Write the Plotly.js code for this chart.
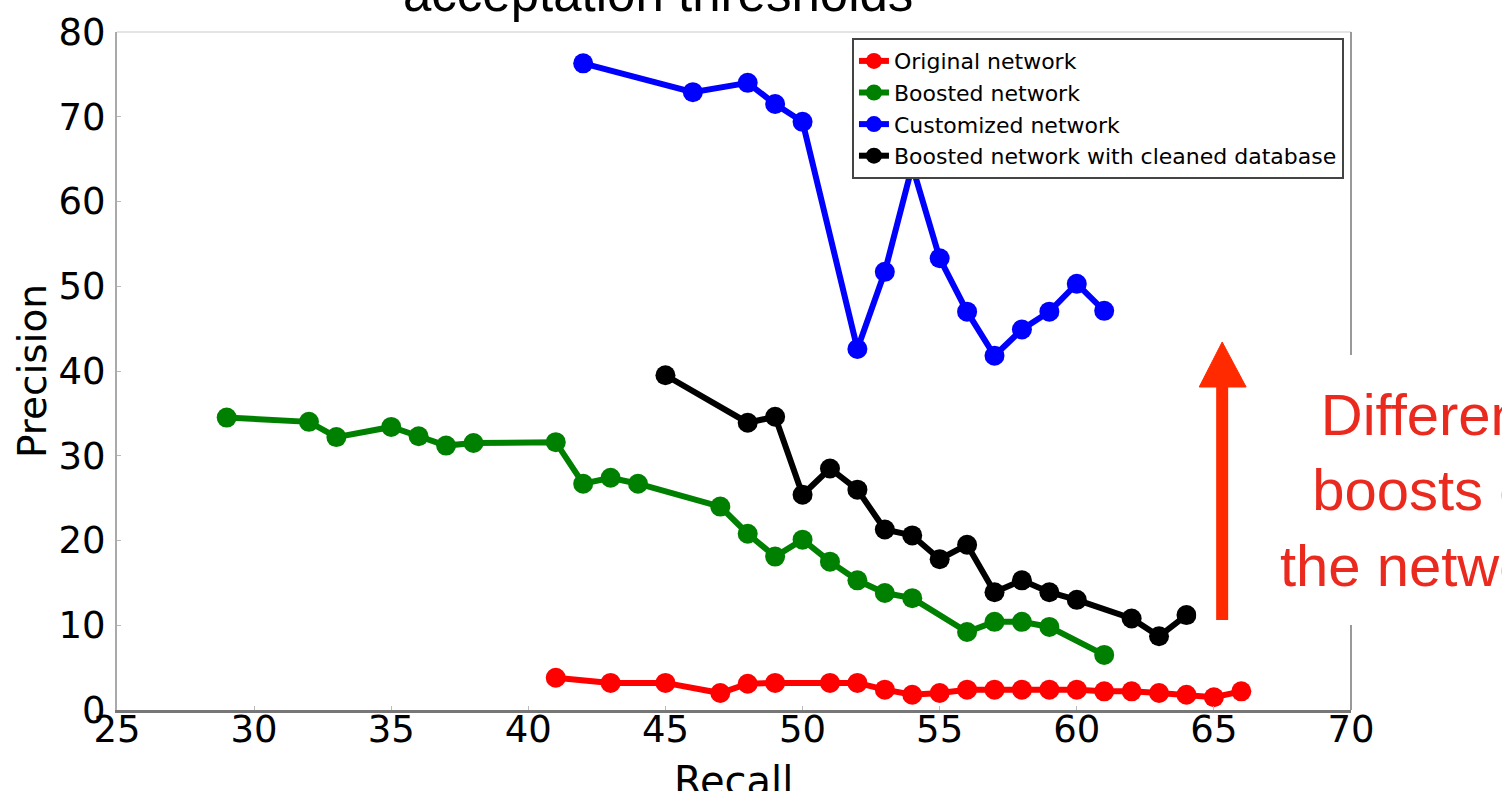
<!DOCTYPE html>
<html>
<head>
<meta charset="utf-8">
<script src="https://cdn.plot.ly/plotly-3.0.1.min.js"></script>
<style>html,body{margin:0;padding:0;background:#fff;}#chart{width:1502px;height:791px;}</style>
</head>
<body>
<div id="chart"></div>
<script>
// Data (Recall vs Precision)
const seriesNames = ["Original network", "Boosted network", "Customized network", "Boosted network with cleaned database"];

const originalRecall = [41,43,45,47,48,49,51,52,53,54,55,56,57,58,59,60,61,62,63,64,65,66];
const originalPrecision = [3.8,3.2,3.2,2.0,3.1,3.2,3.2,3.2,2.4,1.8,2.0,2.4,2.4,2.4,2.4,2.4,2.2,2.2,2.0,1.8,1.5,2.2];

const boostedRecall = [29,32,33,35,36,37,38,41,42,43,44,47,48,49,50,51,52,53,54,56,57,58,59,61];
const boostedPrecision = [34.5,34.0,32.2,33.4,32.3,31.2,31.5,31.6,26.7,27.4,26.7,24.0,20.8,18.1,20.1,17.5,15.3,13.8,13.2,9.2,10.4,10.4,9.8,6.5];

const customRecall = [42,46,48,49,50,52,53,54,55,56,57,58,59,60,61];
const customPrecision = [76.3,72.9,74.0,71.5,69.4,42.6,51.7,64.2,53.3,47.0,41.8,44.9,47.0,50.3,47.1];

const cleanedRecall = [45,48,49,50,51,52,53,54,55,56,57,58,59,60,62,63,64];
const cleanedPrecision = [39.5,33.9,34.6,25.4,28.5,26.0,21.3,20.6,17.8,19.5,13.9,15.3,13.9,13.0,10.8,8.7,11.2];

const xTicks = [25,30,35,40,45,50,55,60,65,70];
const yTicks = [0,10,20,30,40,50,60,70,80];

const titleText = "acceptation thresholds";
const xTitleText = "Recall";
const yTitleText = "Precision";
const noteText = "Different<br>boosts of<br>the network";

const colors = ["#ff0000", "#008000", "#0000ff", "#000000"];
const xs = [originalRecall, boostedRecall, customRecall, cleanedRecall];
const ys = [originalPrecision, boostedPrecision, customPrecision, cleanedPrecision];

const traces = seriesNames.map((name, i) => ({
  type: "scatter",
  mode: "lines+markers",
  name: name,
  x: xs[i],
  y: ys[i],
  line: {color: colors[i], width: 6},
  marker: {color: colors[i], size: 20, symbol: "circle"},
  cliponaxis: false
}));

const tickFont = {family: "DejaVu Sans, sans-serif", size: 37, color: "#000"};

const layout = {
  width: 1502,
  height: 791,
  paper_bgcolor: "#fff",
  plot_bgcolor: "#fff",
  margin: {l: 117, r: 151, t: 32, b: 81, pad: 0},
  showlegend: true,
  legend: {
    x: 0.9943, xanchor: "right",
    y: 0.991, yanchor: "top",
    bgcolor: "#fff",
    bordercolor: "#444",
    borderwidth: 2,
    font: {family: "DejaVu Sans, sans-serif", size: 22, color: "#000"},
    tracegroupgap: 0,
    itemwidth: 30
  },
  xaxis: {
    range: [25, 70],
    tickvals: xTicks,
    ticktext: xTicks.map(String),
    showgrid: false,
    zeroline: false,
    showline: true,
    linecolor: "#777",
    linewidth: 2.5,
    ticks: "inside",
    ticklen: 4,
    tickcolor: "#bbb",
    tickfont: tickFont,
    ticklabelstandoff: -15,
    automargin: false
  },
  yaxis: {
    range: [0, 80],
    tickvals: yTicks,
    ticktext: yTicks.map(String),
    showgrid: false,
    zeroline: false,
    showline: true,
    linecolor: "#aaa",
    linewidth: 2,
    ticks: "inside",
    ticklen: 4,
    tickcolor: "#bbb",
    tickfont: tickFont,
    ticklabelstandoff: 2,
    title: {text: yTitleText, font: {family: "DejaVu Sans, sans-serif", size: 39, color: "#000"}, standoff: 0},
    automargin: false
  },
  shapes: [
    {type: "line", xref: "paper", yref: "paper", x0: 0, x1: 1, y0: 1, y1: 1, line: {color: "#e4e4e4", width: 2}, layer: "below"},
    {type: "line", xref: "paper", yref: "paper", x0: 1, x1: 1, y0: 0, y1: 1, line: {color: "#999", width: 2}, layer: "below"},
    {type: "rect", xref: "paper", yref: "paper", x0: 0.8746, x1: 1.13, y0: 0.1254, y1: 0.5236, fillcolor: "#fff", line: {width: 0}, layer: "above"},
    {type: "line", xref: "paper", yref: "paper", x0: 0.8956, x1: 0.8956, y0: 0.1327, y1: 0.48, line: {color: "#ff2a00", width: 12}, layer: "above"},
    {type: "path", xref: "paper", yref: "paper", path: "M 0.8770 0.4764 L 0.9150 0.4764 L 0.8956 0.5428 Z", fillcolor: "#ff2a00", line: {color: "#ff2a00", width: 1}, layer: "above"}
  ],
  annotations: [
    {text: titleText, xref: "paper", yref: "paper", x: 0.4385, y: 1.057, xanchor: "center", yanchor: "middle", showarrow: false,
     font: {family: "Liberation Sans, Arial, sans-serif", size: 51, color: "#000"}},
    {text: xTitleText, xref: "paper", yref: "paper", x: 0.4999, y: -0.104, xanchor: "center", yanchor: "middle", showarrow: false,
     font: {family: "DejaVu Sans, sans-serif", size: 40, color: "#000"}},
    {text: noteText, xref: "paper", yref: "paper", x: 1.0645, y: 0.3245, xanchor: "center", yanchor: "middle", align: "center", showarrow: false,
     font: {family: "Liberation Sans, Arial, sans-serif", size: 58, color: "#ea2a1e"}}
  ]
};

Plotly.newPlot("chart", traces, layout, {displayModeBar: false, staticPlot: true});
</script>
</body>
</html>
